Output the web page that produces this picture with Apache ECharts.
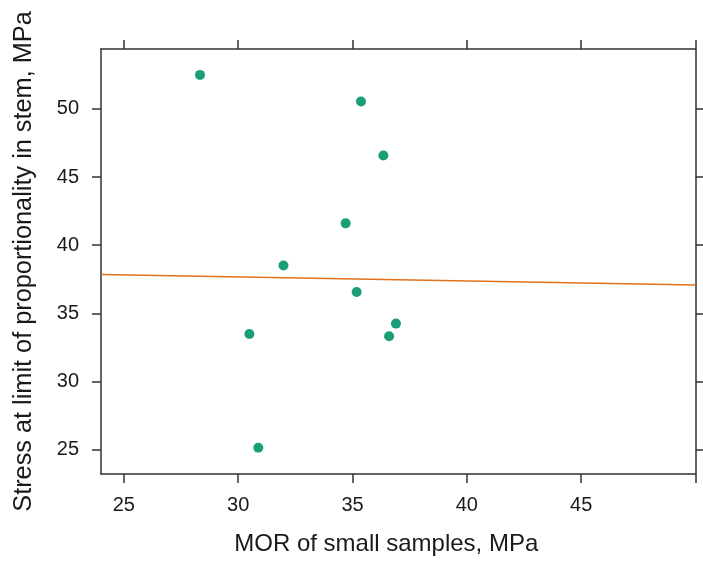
<!DOCTYPE html>
<html>
<head>
<meta charset="utf-8">
<script src="https://cdn.jsdelivr.net/npm/echarts@6/dist/echarts.min.js"></script>
<style>html,body{margin:0;padding:0;background:#fff}#c{width:703px;height:564px}</style>
</head>
<body>
<div id="c"></div>
<script>
var morSmall = [28.33, 35.37, 36.35, 34.70, 31.98, 35.18, 30.49, 36.90, 36.60, 30.88];
var stressStem = [52.5, 50.54, 46.58, 41.6, 38.5, 36.56, 33.48, 34.24, 33.31, 25.13];
var fitX = [24, 50];
var fitY = [37.85, 37.08];
var xTicks = [25, 30, 35, 40, 45, 50];
var xTickLabels = [25, 30, 35, 40, 45];
var yTicks = [25, 30, 35, 40, 45, 50];
var xRange = [24, 50];
var yRange = [23.2, 54.4];
var xTitle = 'MOR of small samples, MPa';
var yTitle = 'Stress at limit of proportionality in stem, MPa';

var pts = morSmall.map(function (x, i) { return [x, stressStem[i]]; });
var fit = fitX.map(function (x, i) { return [x, fitY[i]]; });

var axisCol = '#333333';
var font = 'Liberation Sans, Arial, sans-serif';

function xAx(pos, showLabels) {
  return {
    type: 'value', position: pos, min: xRange[0], max: xRange[1],
    axisLine: { show: true, onZero: false, lineStyle: { color: axisCol, width: 1.5 } },
    axisTick: { show: true, inside: false, length: 9, customValues: xTicks, lineStyle: { color: axisCol, width: 1.5 } },
    axisLabel: { show: showLabels, customValues: xTickLabels, margin: 21, color: '#1a1a1a', fontSize: 20, fontFamily: font },
    splitLine: { show: false },
    name: showLabels ? xTitle : '',
    nameLocation: 'middle', nameGap: 58,
    nameTextStyle: { fontSize: 24, color: '#1a1a1a', fontFamily: font, padding: [0, 24, 0, 0] }
  };
}
function yAx(pos, showLabels) {
  return {
    type: 'value', position: pos, min: yRange[0], max: yRange[1],
    axisLine: { show: true, onZero: false, lineStyle: { color: axisCol, width: 1.5 } },
    axisTick: { show: true, inside: false, length: 9, customValues: yTicks, lineStyle: { color: axisCol, width: 1.5 } },
    axisLabel: { show: showLabels, customValues: yTicks, margin: 22, color: '#1a1a1a', fontSize: 20, fontFamily: font },
    splitLine: { show: false },
    name: showLabels ? yTitle : '',
    nameLocation: 'middle', nameGap: 64,
    nameTextStyle: { fontSize: 25.3, color: '#1a1a1a', fontFamily: font }
  };
}

var chart = echarts.init(document.getElementById('c'), null, { renderer: 'canvas' });
chart.setOption({
  animation: false,
  backgroundColor: '#ffffff',
  grid: { left: 101, right: 7.5, top: 49, bottom: 90, containLabel: false },
  xAxis: [xAx('bottom', true), xAx('top', false)],
  yAxis: [yAx('left', true), yAx('right', false)],
  series: [
    {
      type: 'line', data: fit, xAxisIndex: 0, yAxisIndex: 0,
      showSymbol: false, symbol: 'none',
      lineStyle: { color: '#E0701A', width: 1.5 }, z: 2
    },
    {
      type: 'scatter', data: pts, xAxisIndex: 0, yAxisIndex: 0,
      symbol: 'circle', symbolSize: 10,
      itemStyle: { color: '#1B9E77', opacity: 1 }, z: 3
    }
  ]
});
</script>
</body>
</html>
